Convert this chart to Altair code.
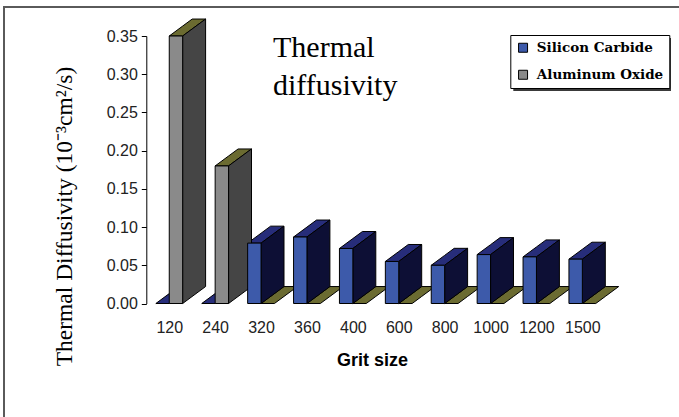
import altair as alt
import pandas as pd

# Grit sizes on the category axis and the measured diffusivities (10^-3 cm^2/s)
grit_sizes = ["120", "240", "320", "360", "400", "600", "800", "1000", "1200", "1500"]
silicon_carbide = [0.0, 0.0, 0.079, 0.087, 0.072, 0.055, 0.050, 0.064, 0.061, 0.058]
aluminum_oxide = [0.35, 0.18, 0.0, 0.0, 0.0, 0.0, 0.0, 0.0, 0.0, 0.0]
series_names = ["Silicon Carbide", "Aluminum Oxide"]

# face colours of the pseudo-3D columns, one per series
front_colors = ["#3d5aaa", "#8a8a8a"]
side_colors = ["#0d0f35", "#454545"]
top_colors = ["#272d7a", "#6b6b31"]

BAR_W = 0.292     # column width, in category units
DEPTH_X = 0.5     # horizontal depth of the extrusion, in category units
DEPTH_Y = 0.0222  # vertical depth of the extrusion, in value units

fronts, sides, tops = [], [], []
for s, values in enumerate([silicon_carbide, aluminum_oxide]):
    for i, v in enumerate(values):
        bar = f"{s}-{i}"
        xl = i - BAR_W if s == 0 else i
        xr = xl + BAR_W
        # top face: parallelogram written as an area between two bounds
        tops += [
            {"bar": bar, "x": xl, "hi": v, "lo": v, "fill": top_colors[s]},
            {"bar": bar, "x": xr, "hi": v + DEPTH_Y * BAR_W / DEPTH_X, "lo": v, "fill": top_colors[s]},
            {"bar": bar, "x": xl + DEPTH_X, "hi": v + DEPTH_Y,
             "lo": v + DEPTH_Y * (DEPTH_X - BAR_W) / DEPTH_X, "fill": top_colors[s]},
            {"bar": bar, "x": xr + DEPTH_X, "hi": v + DEPTH_Y, "lo": v + DEPTH_Y, "fill": top_colors[s]},
        ]
        if v > 0:
            fronts.append({"series": series_names[s], "x": xl, "x2": xr, "v": v, "base": 0.0})
            sides += [
                {"bar": bar, "x": xr, "hi": v, "lo": 0.0, "fill": side_colors[s]},
                {"bar": bar, "x": xr + DEPTH_X, "hi": v + DEPTH_Y, "lo": DEPTH_Y, "fill": side_colors[s]},
            ]

front_df = pd.DataFrame(fronts)
side_df = pd.DataFrame(sides)
top_df = pd.DataFrame(tops)
one_row = pd.DataFrame({"k": [0]})

x_scale = alt.Scale(domain=[-0.5, 9.5], nice=False, zero=False)
y_scale = alt.Scale(domain=[0, 0.35], nice=False, zero=True)
label_expr = "[" + ",".join(f"'{g}'" for g in grit_sizes) + "][datum.value]"

x_axis = alt.Axis(
    values=list(range(len(grit_sizes))), labelExpr=label_expr,
    domain=False, ticks=False, tickSize=0, grid=False,
    labelFont="Liberation Sans", labelFontSize=16, labelColor="#222222",
    labelBaseline="alphabetic", labelPadding=28.5,
    title="Grit size", titleFont="Liberation Sans", titleFontSize=18,
    titleFontWeight="bold", titleColor="black",
    titleX=225.7, titleY=61.5, titleAlign="center", titleBaseline="alphabetic",
)
y_axis = alt.Axis(
    values=[0, 0.05, 0.10, 0.15, 0.20, 0.25, 0.30, 0.35], format=".2f",
    grid=False, domainColor="black", tickColor="black", tickSize=5,
    labelFont="Liberation Sans", labelFontSize=16, labelColor="#222222",
    labelPadding=4,
    title="Thermal Diffusivity (10⁻³cm²/s)", titleFont="Liberation Serif",
    titleFontSize=23.5, titleFontWeight="normal", titleColor="black",
    titleAngle=270, titleX=-75.3, titleY=180, titleAlign="center",
    titleBaseline="alphabetic",
)

# outer frame around the figure
frame = alt.Chart(one_row).mark_rect(filled=False, stroke="#5a5a5a", strokeWidth=2).encode(
    x=alt.value(-142.3), x2=alt.value(560), y=alt.value(-29), y2=alt.value(400)
)

# drop shadow behind the legend box
shadow = alt.Chart(one_row).mark_rect(fill="#3a3a3a").encode(
    x=alt.value(367), x2=alt.value(524.7), y=alt.value(2), y2=alt.value(55)
)

top_faces = alt.Chart(top_df).mark_area(stroke="black", strokeWidth=1, interpolate="linear").encode(
    x=alt.X("x:Q", scale=x_scale, axis=x_axis),
    y=alt.Y("hi:Q", scale=y_scale, axis=y_axis),
    y2="lo:Q",
    detail="bar:N",
    fill=alt.Fill("fill:N", scale=None),
)

side_faces = alt.Chart(side_df).mark_area(stroke="black", strokeWidth=1, interpolate="linear").encode(
    x=alt.X("x:Q", scale=x_scale, axis=x_axis),
    y=alt.Y("hi:Q", scale=y_scale, axis=y_axis),
    y2="lo:Q",
    detail="bar:N",
    fill=alt.Fill("fill:N", scale=None),
)

front_faces = alt.Chart(front_df).mark_rect(stroke="black", strokeWidth=1, opacity=1).encode(
    x=alt.X("x:Q", scale=x_scale, axis=x_axis),
    x2="x2:Q",
    y=alt.Y("v:Q", scale=y_scale, axis=y_axis),
    y2="base:Q",
    color=alt.Color(
        "series:N",
        scale=alt.Scale(domain=series_names, range=front_colors),
        legend=alt.Legend(
            title=None, orient="none", legendX=364, legendY=-1,
            fillColor="white", strokeColor="black", padding=6,
            symbolType="square", symbolSize=81, symbolStrokeColor="black",
            symbolStrokeWidth=1, symbolOpacity=1,
            labelFont="DejaVu Serif", labelFontWeight="bold", labelFontSize=13.5,
            labelColor="black", labelOffset=7, rowPadding=12,
        ),
    ),
)

title_line1 = alt.Chart(one_row).mark_text(
    align="left", baseline="alphabetic", font="Liberation Serif", fontSize=30, color="black"
).encode(x=alt.value(126.7), y=alt.value(21), text=alt.value("Thermal"))

title_line2 = alt.Chart(one_row).mark_text(
    align="left", baseline="alphabetic", font="Liberation Serif", fontSize=30, color="black"
).encode(x=alt.value(126.7), y=alt.value(59), text=alt.value("diffusivity"))

chart = alt.layer(
    top_faces, frame, shadow, side_faces, front_faces, title_line1, title_line2
).properties(
    width=459, height=267.5,
    autosize=alt.AutoSizeParams(type="none"),
    padding={"left": 146.3, "top": 36, "right": 73.7, "bottom": 113.5},
    background="white",
).configure_view(stroke="transparent")

chart.save("out.html", embed_options={"renderer": "svg", "actions": False})
